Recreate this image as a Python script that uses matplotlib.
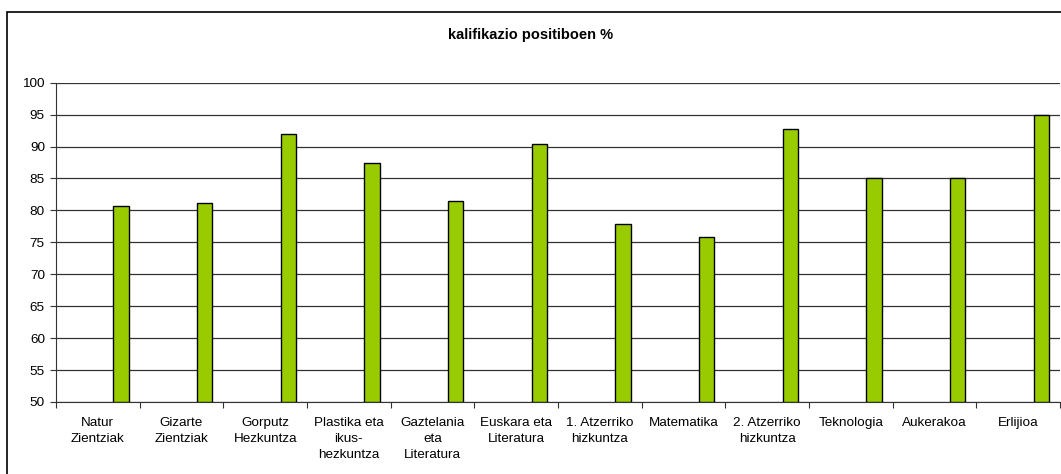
import matplotlib.pyplot as plt
import numpy as np
from matplotlib.patches import Rectangle

plt.rcParams['font.family'] = ['Liberation Sans', 'DejaVu Sans']

subjects = ["Natur\nZientziak", "Gizarte\nZientziak", "Gorputz\nHezkuntza",
            "Plastika eta\nikus-\nhezkuntza", "Gaztelania\neta\nLiteratura",
            "Euskara eta\nLiteratura", "1. Atzerriko\nhizkuntza", "Matematika",
            "2. Atzerriko\nhizkuntza", "Teknologia", "Aukerakoa", "Erlijioa"]
positive_pct = [80.7, 81.1, 91.9, 87.5, 81.4, 90.4, 77.9, 75.8, 92.8, 85.0, 85.1, 94.9]

fig = plt.figure(figsize=(10.61, 4.74), dpi=100)
ax = fig.add_axes([56 / 1061, 1 - 402 / 474, (1060 - 56) / 1061, (402 - 82.7) / 474])

# outer chart frame (runs off the right and bottom of the image)
fig.patches.append(Rectangle((7 / 1061, -0.05), 1.0, 1.05 - 12 / 474,
                             transform=fig.transFigure, fill=False,
                             edgecolor='black', linewidth=1.2))

x = np.arange(len(subjects))
ax.bar(x + 0.5 + 0.277, np.array(positive_pct) - 50, bottom=50, width=0.183,
       color='#99CC00', edgecolor='black', linewidth=1.0, zorder=3)

ax.set_xlim(0, len(subjects))
ax.set_ylim(50, 100)
ax.set_yticks(np.arange(50, 101, 5))
ax.yaxis.grid(True, color='#333333', linewidth=0.9)
ax.set_axisbelow(True)

ax.set_xticks(np.arange(len(subjects) + 1))
ax.set_xticklabels([])
ax.set_xticks(x + 0.5, minor=True)
ax.set_xticklabels(subjects, minor=True, fontsize=9.7, linespacing=1.42)
ax.tick_params(axis='x', which='minor', length=0, pad=11)
ax.tick_params(axis='x', which='major', length=4, direction='out', color='#333333')
ax.tick_params(axis='y', length=4, direction='out', labelsize=9.7, color='#333333', pad=4)

for s in ['top', 'right']:
    ax.spines[s].set_visible(False)
ax.spines['left'].set_color('#333333')
ax.spines['bottom'].set_color('#333333')

fig.text(0.5, 1 - 35 / 474, "kalifikazio positiboen %", ha='center', va='center',
         fontsize=10.5, fontweight='bold')

plt.savefig("out.png", dpi=100)
